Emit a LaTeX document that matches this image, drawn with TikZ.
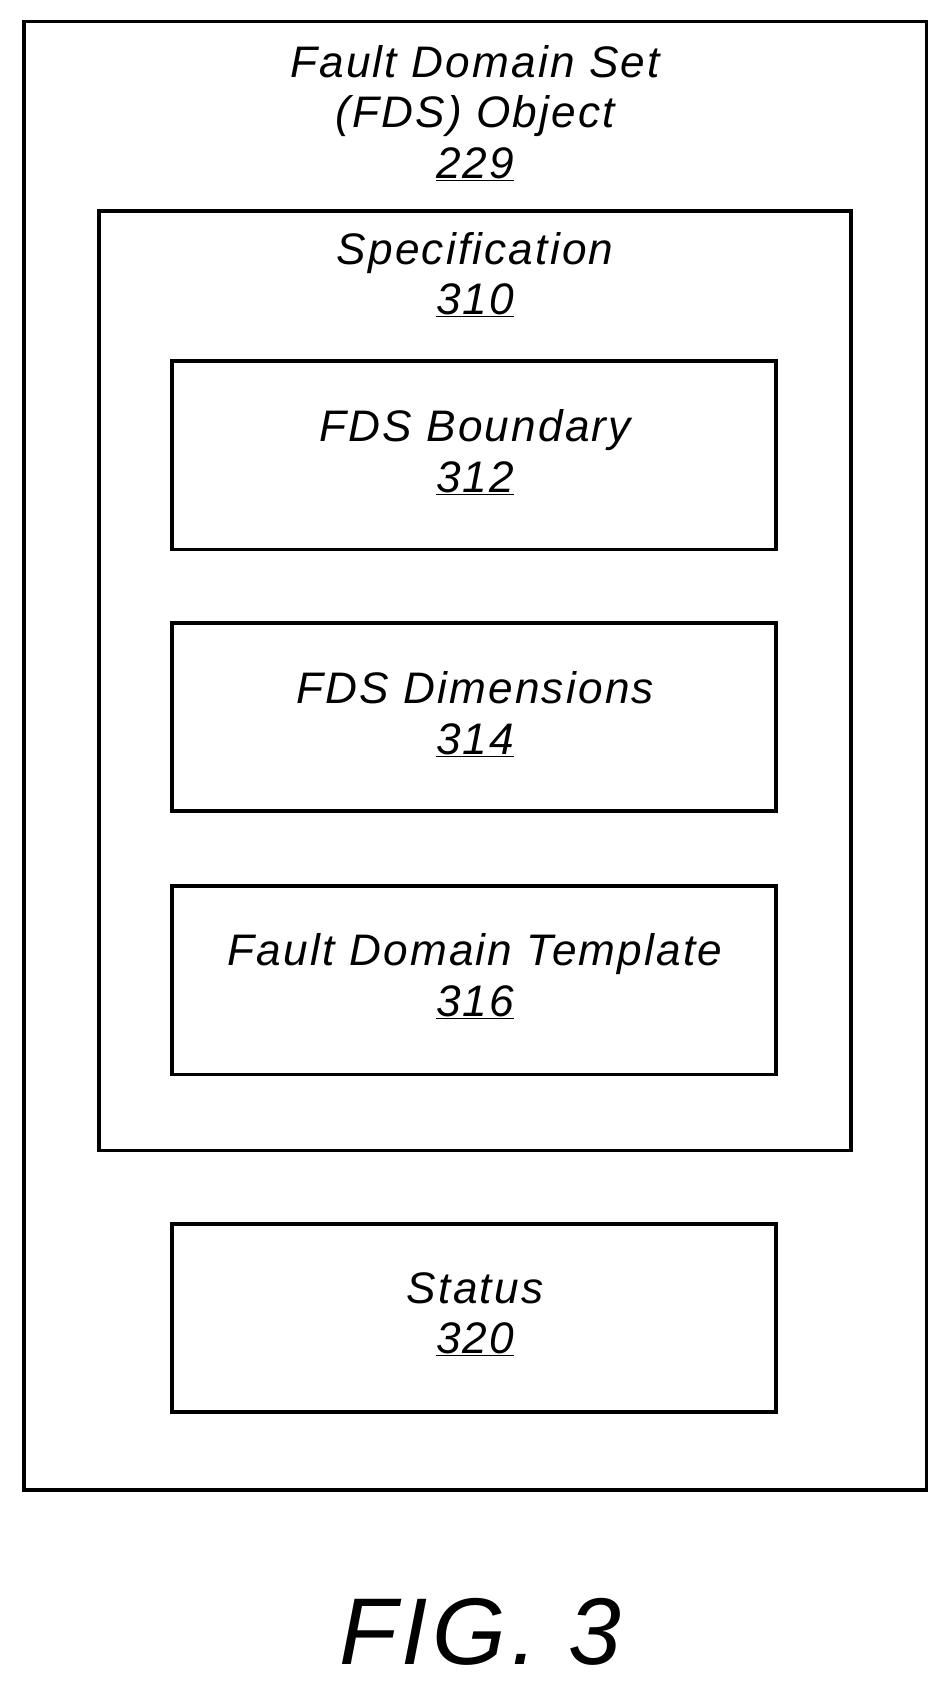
\documentclass[tikz,border=0pt]{standalone}
\usepackage{fontspec}
\setmainfont{Liberation Sans}[LetterSpace=5]
\begin{document}
\begin{tikzpicture}[x=1pt,y=-1pt,
  box/.style={draw=black,line width=3.5pt},
  lbl/.style={font=\itshape\fontsize{41}{47}\selectfont,align=center,inner sep=0pt}]
\useasboundingbox (0,0) rectangle (880,1566);
\draw[box] (22,20) rectangle (860,1383);
\draw[box] (92,196) rectangle (790,1068);
\node[box,minimum width=560pt,minimum height=175pt] (b1) at (440,422.5) {};
\node[box,minimum width=560pt,minimum height=175pt] (b2) at (440,665.5) {};
\node[box,minimum width=560pt,minimum height=175pt] (b3) at (440,910) {};
\node[box,minimum width=560pt,minimum height=175pt] (b4) at (440,1223.5) {};
\node[lbl] (t0) at (441,105) {Fault Domain Set\\(FDS) Object\\\underline{229}};
\node[lbl] (t1) at (441,255) {Specification\\\underline{310}};
\node[lbl] (t2) at (441,420) {FDS Boundary\\\underline{312}};
\node[lbl] (t3) at (441,663) {FDS Dimensions\\\underline{314}};
\node[lbl] (t4) at (441,906) {Fault Domain Template\\\underline{316}};
\node[lbl] (t5) at (441,1220) {Status\\\underline{320}};
\node[lbl,font=\itshape\fontsize{88}{90}\selectfont] (fig) at (446,1515) {FIG. 3};
\end{tikzpicture}
\end{document}
